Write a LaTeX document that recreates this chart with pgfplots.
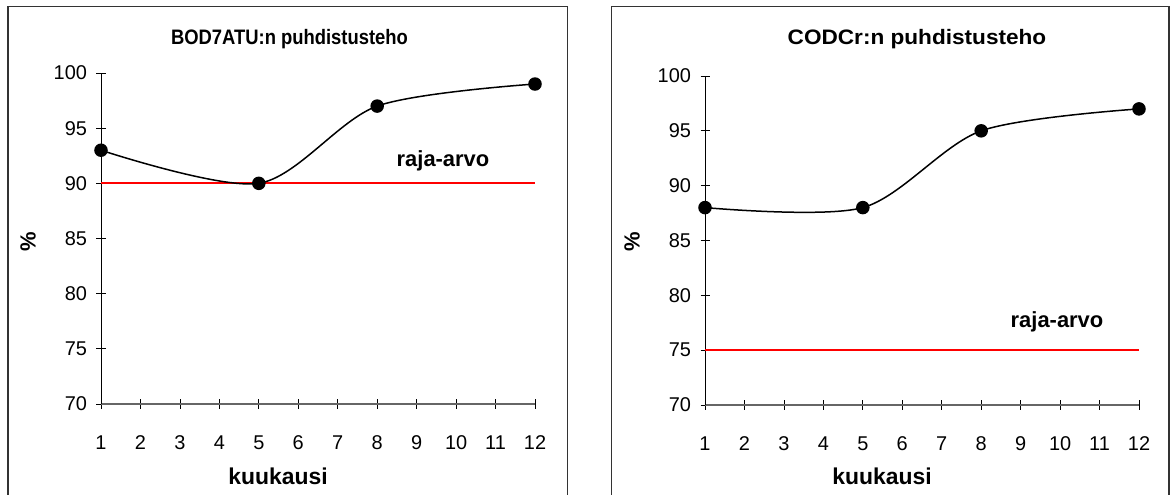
\documentclass[border=0pt]{standalone}
\usepackage{fontspec}
\setmainfont{Liberation Sans}
\usepackage{pgfplots}
\pgfplotsset{compat=1.18}

\pgfplotsset{
  panel/.style={
    scale only axis, width=434bp, anchor=south west,
    xmin=1, xmax=12, ymin=70, ymax=100,
    axis lines=left, axis line style={-},
    y axis line style={black, line width=0.9bp},
    x axis line style={black!60, line width=1.2bp},
    xtick={1,...,12}, ytick={70,75,...,100},
    tick align=center, major tick length=9bp,
    tick style={black, line width=0.8bp},
    ticklabel style={font=\fontsize{20}{24}\selectfont},
    /pgf/number format/assume math mode=true,
    xticklabel style={yshift=-24bp},
    yticklabel style={xshift=-6bp},
    clip=false,
  },
  limit/.style={red, line width=1.8bp},
  curve/.style={black, line width=1.5bp, smooth, mark=*, mark size=6bp,
    mark options={fill=black, solid}},
}

\begin{document}
\begin{tikzpicture}
\path[use as bounding box] (0bp,0bp) rectangle (1170bp,495bp);

% chart area frames
\draw[line width=1.5bp, black!80] (8bp,0bp) -- (8bp,488.5bp) -- (567.5bp,488.5bp) -- (567.5bp,0bp);
\draw[line width=1.5bp, black!80] (611.5bp,0bp) -- (611.5bp,488.5bp) -- (1169bp,488.5bp) -- (1169bp,0bp);

% BOD7ATU
\begin{axis}[panel, height=331bp, at={(101bp,91bp)}]
  \addplot[limit] coordinates {(1,90) (12,90)};
  \addplot[curve] coordinates {(1,93) (5,90) (8,97) (12,99)};
\end{axis}

% CODCr
\begin{axis}[panel, height=329bp, at={(705bp,90bp)}]
  \addplot[limit] coordinates {(1,75) (12,75)};
  \addplot[curve] coordinates {(1,88) (5,88) (8,95) (12,97)};
\end{axis}

% titles and labels
\begin{scope}[every node/.style={font=\bfseries\fontsize{21}{25}\selectfont, inner sep=0pt}]
  \node[anchor=base, xscale=0.88] at (289.5bp,450bp) {BOD7ATU:n puhdistusteho};
  \node[anchor=base, xscale=1.08] at (917bp,450bp) {CODCr:n puhdistusteho};
\end{scope}
\begin{scope}[every node/.style={font=\bfseries\fontsize{22}{26}\selectfont, inner sep=0pt}]
  \node[anchor=base] at (443bp,328bp) {raja-arvo};
  \node[anchor=base] at (1057bp,167bp) {raja-arvo};
  \node[rotate=90] at (28bp,253bp) {\%};
  \node[rotate=90] at (632bp,253bp) {\%};
\end{scope}
\begin{scope}[every node/.style={font=\bfseries\fontsize{23}{27}\selectfont, inner sep=0pt}]
  \node[anchor=base] at (278bp,11bp) {kuukausi};
  \node[anchor=base] at (882bp,11bp) {kuukausi};
\end{scope}
\end{tikzpicture}
\end{document}
